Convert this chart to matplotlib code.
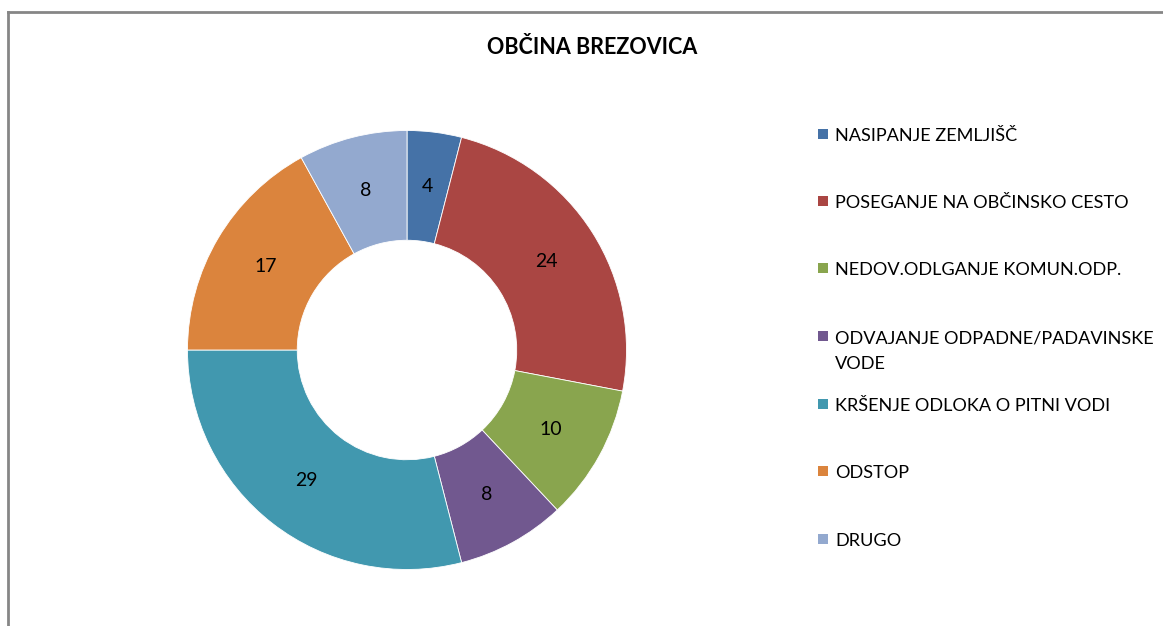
import matplotlib.pyplot as plt
from matplotlib.patches import Rectangle

plt.rcParams['font.family'] = ['Lato', 'DejaVu Sans']

title = "OBČINA BREZOVICA"
categories = ["NASIPANJE ZEMLJIŠČ",
              "POSEGANJE NA OBČINSKO CESTO",
              "NEDOV.ODLGANJE KOMUN.ODP.",
              "ODVAJANJE ODPADNE/PADAVINSKE\nVODE",
              "KRŠENJE ODLOKA O PITNI VODI",
              "ODSTOP",
              "DRUGO"]
values = [4, 24, 10, 8, 29, 17, 8]
colors = ["#4572A7", "#AA4643", "#89A54E", "#71588F", "#4198AF", "#DB843D", "#93A9CF"]

W, H = 1163, 626
fig = plt.figure(figsize=(W / 100, H / 100), dpi=100)

# outer frame (left + top only visible)
fig.add_artist(plt.Line2D([7.5 / W, 7.5 / W], [0, 1 - 12 / H], color="#868686", lw=2))
fig.add_artist(plt.Line2D([7.5 / W, 1], [1 - 12 / H, 1 - 12 / H], color="#868686", lw=2))

cx, cy, r = 407, 350, 219.5
ax = fig.add_axes([(cx - r) / W, (H - cy - r) / H, 2 * r / W, 2 * r / H])
wedges, texts = ax.pie(values, colors=colors, startangle=90, counterclock=False,
                       radius=1.0, labels=[str(v) for v in values], labeldistance=0.75,
                       wedgeprops=dict(width=0.5, edgecolor="white", linewidth=0.6),
                       textprops=dict(fontsize=14, color="black"))
for t in texts:
    t.set_ha("center")
    t.set_va("center")
ax.set_xlim(-1, 1)
ax.set_ylim(-1, 1)
ax.axis("off")

fig.text(592 / W, 1 - 54 / H, title, ha="center", va="baseline",
         fontsize=15.5, fontweight="bold")

# legend
row_y = [134, 201, 268, 336, 404, 471, 539]
for lab, col, y in zip(categories, colors, row_y):
    fig.add_artist(Rectangle((818 / W, 1 - (y + 5) / H), 10 / W, 10 / H,
                             facecolor=col, edgecolor="none"))
    for k, line in enumerate(lab.split("\n")):
        fig.text(835 / W, 1 - (y + 7 + 26 * k) / H, line, ha="left", va="baseline",
                 fontsize=13.1)

fig.savefig("out.png", dpi=100)
